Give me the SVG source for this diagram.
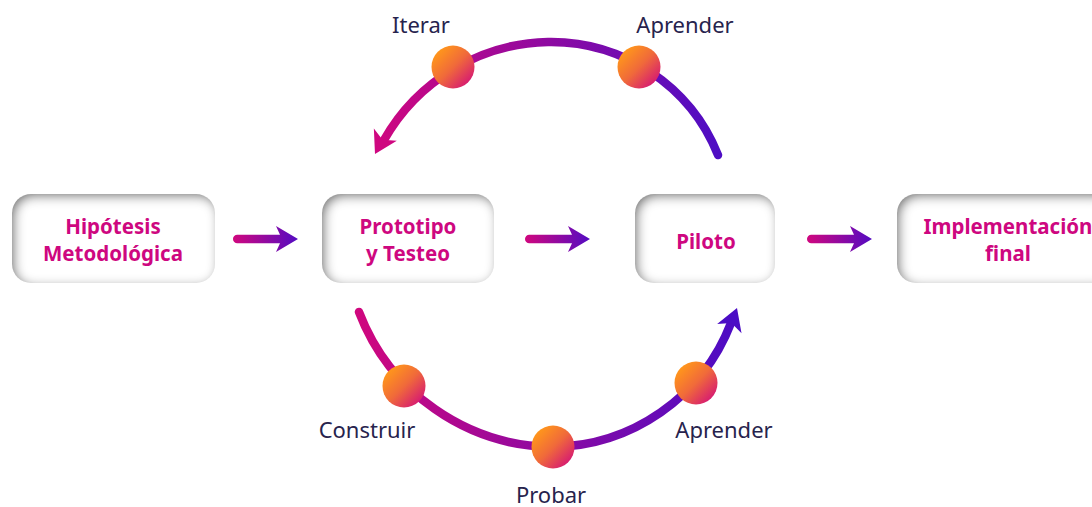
<svg xmlns="http://www.w3.org/2000/svg" xmlns:xlink="http://www.w3.org/1999/xlink" width="1092" height="507" viewBox="0 0 1092 507">
  <defs>
    <style>
      .box { fill: #ffffff; filter: url(#inset); }
      .title { font-family: "Noto Sans", "Liberation Sans", sans-serif; font-weight: 700; font-size: 20.5px; fill: #CE0780; text-anchor: middle; }
      .step { font-family: "Noto Sans", "Liberation Sans", sans-serif; font-weight: 400; font-size: 22px; fill: #27234D; text-anchor: middle; }
      .loop { fill: none; stroke-width: 8.5; stroke-linecap: round; }
      .dot { fill: url(#dotGrad); }
    </style>
    <!-- soft inner shadow for the stage cards -->
    <filter id="inset" x="-10%" y="-20%" width="120%" height="140%">
      <feComponentTransfer in="SourceAlpha" result="inv">
        <feFuncA type="table" tableValues="1 0"/>
      </feComponentTransfer>
      <feGaussianBlur in="inv" stdDeviation="5.5" result="blur"/>
      <feOffset in="blur" dx="3" dy="3" result="off"/>
      <feFlood flood-color="#6a6a6a" flood-opacity="1"/>
      <feComposite in2="off" operator="in" result="shadow"/>
      <feComposite in="shadow" in2="SourceAlpha" operator="in" result="inner"/>
      <feMerge>
        <feMergeNode in="SourceGraphic"/>
        <feMergeNode in="inner"/>
      </feMerge>
    </filter>
    <linearGradient id="arrowGrad" x1="0" y1="0" x2="1" y2="0">
      <stop offset="0" stop-color="#D0077E"/>
      <stop offset="1" stop-color="#540CC2"/>
    </linearGradient>
    <linearGradient id="topGrad" gradientUnits="userSpaceOnUse" x1="720" y1="0" x2="372" y2="0">
      <stop offset="0" stop-color="#4E0DC4"/>
      <stop offset="1" stop-color="#D0077E"/>
    </linearGradient>
    <linearGradient id="bottomGrad" gradientUnits="userSpaceOnUse" x1="356" y1="0" x2="740" y2="0">
      <stop offset="0" stop-color="#D0077E"/>
      <stop offset="1" stop-color="#4B0CC5"/>
    </linearGradient>
    <linearGradient id="dotGrad" x1="0.15" y1="0.15" x2="0.85" y2="0.85">
      <stop offset="0" stop-color="#FF951C"/>
      <stop offset="0.5" stop-color="#F06A3A"/>
      <stop offset="1" stop-color="#D8206E"/>
    </linearGradient>
    <!-- straight arrow, tip at origin -->
    <path id="hArrow" fill="url(#arrowGrad)" d="M-60.75,-4.25 L-18,-4.25 L-22,-13 L0,0 L-22,13 L-18,4.25 L-60.75,4.25 A4.25,4.25 0 0 1 -60.75,-4.25 Z"/>
    <!-- arrowhead, tip at origin pointing along +x -->
    <path id="head" d="M0,0 L-22,-13 L-16,0 L-22,13 Z"/>
  </defs>

  <!-- stage cards -->
  <g id="node-hipotesis">
    <rect class="box" x="12" y="194" width="203" height="89" rx="19"/>
    <text class="title" x="113" y="234">Hipótesis</text>
    <text class="title" x="113" y="261">Metodológica</text>
  </g>
  <g id="node-prototipo">
    <rect class="box" x="322" y="194" width="172" height="89" rx="19"/>
    <text class="title" x="408" y="234">Prototipo</text>
    <text class="title" x="408" y="261">y Testeo</text>
  </g>
  <g id="node-piloto">
    <rect class="box" x="635" y="194" width="140" height="89" rx="19"/>
    <text class="title" x="706" y="249">Piloto</text>
  </g>
  <g id="node-implementacion">
    <rect class="box" x="897" y="194" width="215" height="89" rx="19"/>
    <text class="title" x="1008" y="234">Implementación</text>
    <text class="title" x="1008" y="261">final</text>
  </g>

  <!-- connectors -->
  <g id="connectors">
    <use xlink:href="#hArrow" transform="translate(298,239)"/>
    <use xlink:href="#hArrow" transform="translate(590,239)"/>
    <use xlink:href="#hArrow" transform="translate(872,239)"/>

    <!-- upper loop: Piloto back to Prototipo -->
    <path class="loop" stroke="url(#topGrad)" d="M718,155 A180,180 0 0 0 548,42 A193,193 0 0 0 384,140"/>
    <use xlink:href="#head" fill="#CF0780" transform="translate(375,154) rotate(118)"/>

    <!-- lower loop: Prototipo to Piloto -->
    <path class="loop" stroke="url(#bottomGrad)" d="M359,312 A210,210 0 0 0 552,447 A194,194 0 0 0 731,323"/>
    <use xlink:href="#head" fill="#4B0CC5" transform="translate(737,308) rotate(-69.6)"/>
  </g>

  <!-- loop steps -->
  <g id="step-iterar">
    <circle class="dot" cx="453" cy="67" r="21.5"/>
    <text class="step" x="421" y="33">Iterar</text>
  </g>
  <g id="step-aprender-top">
    <circle class="dot" cx="639" cy="67" r="21.5"/>
    <text class="step" x="685" y="33">Aprender</text>
  </g>
  <g id="step-construir">
    <circle class="dot" cx="404" cy="386" r="21.5"/>
    <text class="step" x="367" y="438">Construir</text>
  </g>
  <g id="step-probar">
    <circle class="dot" cx="553" cy="447" r="21.5"/>
    <text class="step" x="551" y="503">Probar</text>
  </g>
  <g id="step-aprender-bottom">
    <circle class="dot" cx="696" cy="383" r="21.5"/>
    <text class="step" x="724" y="438">Aprender</text>
  </g>
</svg>
